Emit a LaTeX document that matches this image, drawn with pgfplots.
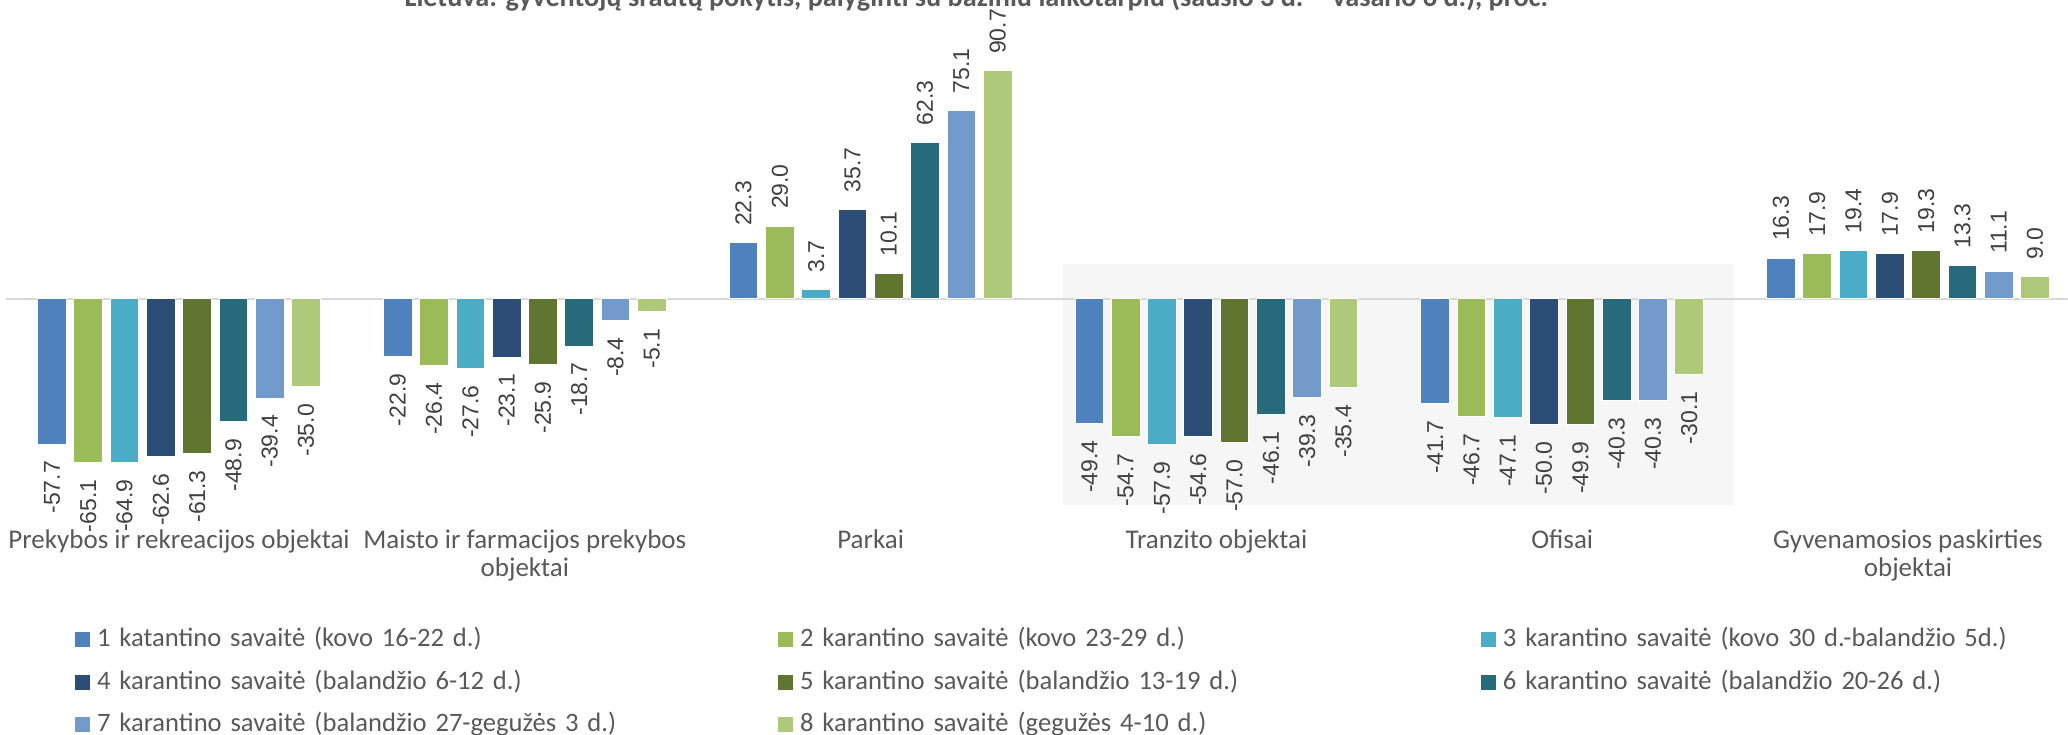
\documentclass[border=0pt]{standalone}
\usepackage{fontspec}
\setmainfont{Carlito}
\newfontfamily\lblfont{Liberation Sans}
\usepackage{pgfplots}
\pgfplotsset{compat=1.18}

\definecolor{w1}{HTML}{4F81BD}
\definecolor{w2}{HTML}{9BBB59}
\definecolor{w3}{HTML}{4BACC6}
\definecolor{w4}{HTML}{2C4D75}
\definecolor{w5}{HTML}{5F7530}
\definecolor{w6}{HTML}{276A7C}
\definecolor{w7}{HTML}{729ACA}
\definecolor{w8}{HTML}{AFC97A}
\definecolor{txt}{HTML}{595959}
\definecolor{lbl}{HTML}{404040}
\definecolor{zeroline}{HTML}{D9D9D9}
\definecolor{bggray}{HTML}{F6F6F6}

\begin{document}
\begin{tikzpicture}
\begin{axis}[
    set layers,
    x=172.9pt, y=1.257pt,
    xmin=-0.5, xmax=5.46, ymin=-85, ymax=100,
    enlargelimits=false, clip=false,
    axis line style={draw=none},
    major tick style={draw=none},
    ytick=\empty,
    xtick={0,...,5},
    xticklabels={Prekybos ir rekreacijos objektai,
        {Maisto ir farmacijos prekybos\\objektai},
        Parkai, Tranzito objektai, Ofisai,
        {Gyvenamosios paskirties\\objektai}},
    xticklabel style={font=\fontsize{13.5}{14}\selectfont, text=txt,
        align=center, inner sep=0pt, yshift=-4pt},
    ybar=3.8pt, bar width=14.35pt,
    every axis plot/.append style={draw=white, line width=0.5pt},
    nodes near coords={\rotatebox{90}{\pgfmathprintnumber[fixed,fixed zerofill,precision=1,assume math mode=true]{\pgfplotspointmeta}}},
    every node near coord/.append style={font=\lblfont\fontsize{11.5}{13}\selectfont,
        text=lbl, inner xsep=0pt, inner ysep=8.3pt},
    legend columns=3,
    legend cell align=left,
    legend style={at={(0.03343,-0.2451)}, anchor=north west,
        draw=none, fill=none, inner sep=0pt, outer sep=0pt,
        nodes={font=\fontsize{13.3}{16}\selectfont, text=txt,
            text width=340.5pt, text height=10pt, text depth=11.25pt, inner sep=0pt},
        /tikz/every odd column/.append style={column sep=3.5pt},
        /tikz/every even column/.append style={column sep=0pt}},
    legend image code/.code={\fill[#1, draw=none] (0pt,0.4pt) rectangle (7.5pt,7.9pt);},
]
\begin{pgfonlayer}{axis background}
\fill[bggray] (axis cs:2.556,13.9) rectangle (axis cs:4.497,-81.9);
\draw[zeroline, line width=1pt] (axis cs:-0.5,0) -- (axis cs:5.47,0);
\end{pgfonlayer}

% order: Prekybos, Maisto, Parkai, Tranzito, Ofisai, Gyvenamosios
\addplot[fill=w1] coordinates {(0,-57.7) (1,-22.9) (2,22.3) (3,-49.4) (4,-41.7) (5,16.3)};
\addplot[fill=w2] coordinates {(0,-65.1) (1,-26.4) (2,29.0) (3,-54.7) (4,-46.7) (5,17.9)};
\addplot[fill=w3] coordinates {(0,-64.9) (1,-27.6) (2,3.7) (3,-57.9) (4,-47.1) (5,19.4)};
\addplot[fill=w4] coordinates {(0,-62.6) (1,-23.1) (2,35.7) (3,-54.6) (4,-50.0) (5,17.9)};
\addplot[fill=w5] coordinates {(0,-61.3) (1,-25.9) (2,10.1) (3,-57.0) (4,-49.9) (5,19.3)};
\addplot[fill=w6] coordinates {(0,-48.9) (1,-18.7) (2,62.3) (3,-46.1) (4,-40.3) (5,13.3)};
\addplot[fill=w7] coordinates {(0,-39.4) (1,-8.4) (2,75.1) (3,-39.3) (4,-40.3) (5,11.1)};
\addplot[fill=w8] coordinates {(0,-35.0) (1,-5.1) (2,90.7) (3,-35.4) (4,-30.1) (5,9.0)};
\legend{1 katantino savaitė (kovo 16-22 d.),
    2 karantino savaitė (kovo 23-29 d.),
    3 karantino savaitė (kovo 30 d.-balandžio 5d.),
    4 karantino savaitė (balandžio 6-12 d.),
    5 karantino savaitė (balandžio 13-19 d.),
    6 karantino savaitė (balandžio 20-26 d.),
    7 karantino savaitė (balandžio 27-gegužės 3 d.),
    8 karantino savaitė (gegužės 4-10 d.)}
\end{axis}
% page = 2068 x 734 px at 0.5pt per px; the title runs off the top edge as in the source
\pgfresetboundingbox
\useasboundingbox (-3.05pt,-110.655pt) rectangle (1030.95pt,256.345pt);
\node[anchor=base, font=\bfseries\fontsize{14.1}{17}\selectfont, text=txt, inner sep=0pt]
    at (485pt,253.3pt) {Lietuva: gyventojų srautų pokytis, palyginti su baziniu laikotarpiu (sausio 3 d. – vasario 6 d.), proc.};
\end{tikzpicture}
\end{document}
